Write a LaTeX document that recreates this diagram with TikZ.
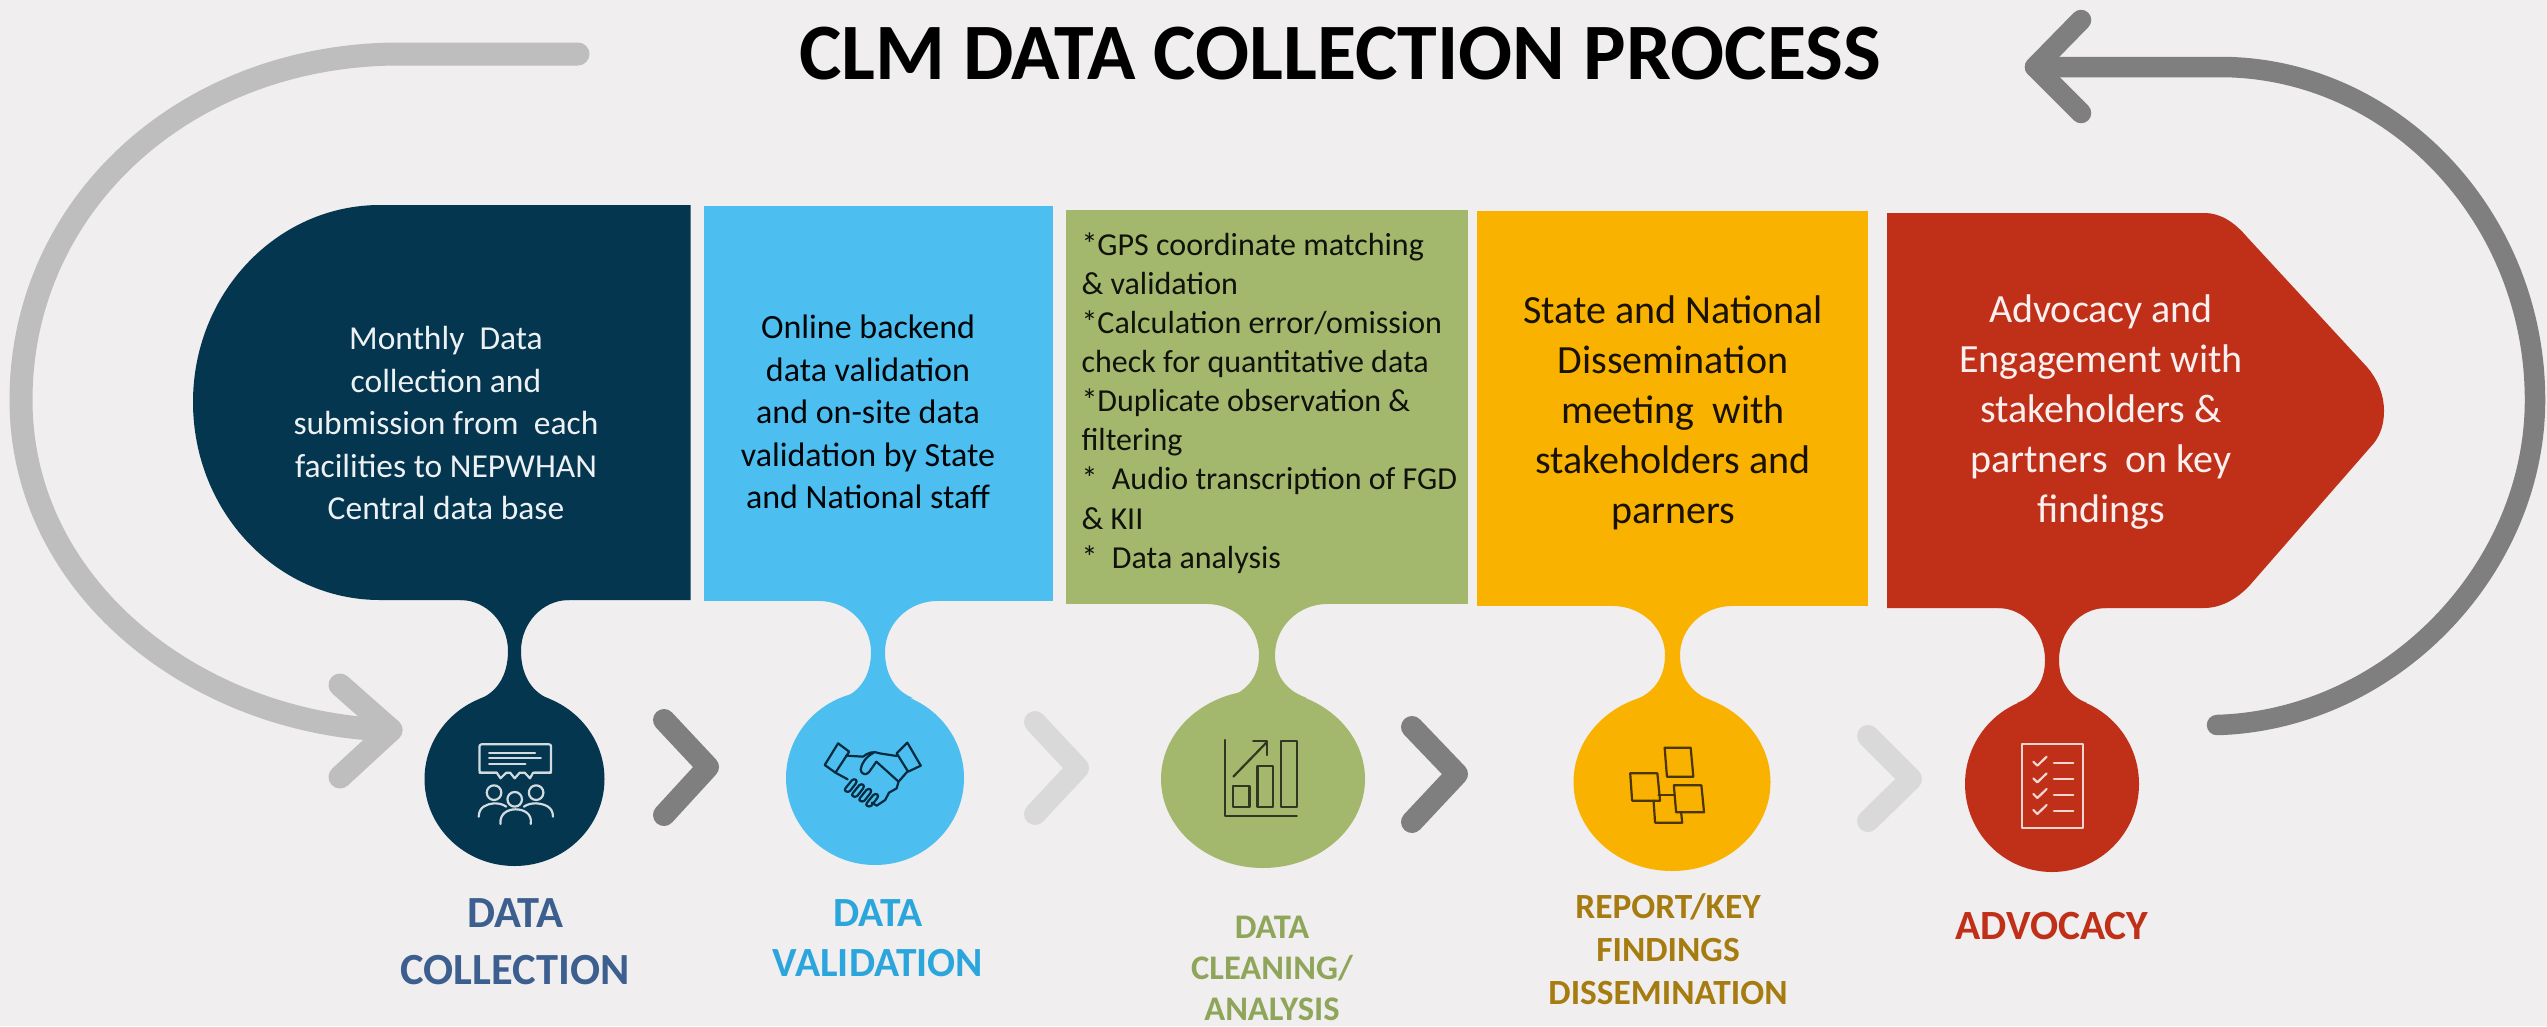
\documentclass[tikz,border=0pt]{standalone}
\usepackage{fontspec}
\setmainfont{Carlito}
\definecolor{bgc}{HTML}{F0EEEF}
\definecolor{navyc}{HTML}{05364F}
\definecolor{bluec}{HTML}{4CBFF0}
\definecolor{greenc}{HTML}{A3B86C}
\definecolor{yellowc}{HTML}{F9B200}
\definecolor{redc}{HTML}{C03018}
\definecolor{greyd}{HTML}{7F7F7F}
\definecolor{greym}{HTML}{BEBEBE}
\definecolor{greyl}{HTML}{D9D9D9}
\definecolor{lab1}{HTML}{3C5F8F}
\definecolor{lab2}{HTML}{2BA6DC}
\definecolor{lab3}{HTML}{8FA65A}
\definecolor{lab4}{HTML}{A67C10}
\definecolor{lab5}{HTML}{C03018}
\newcommand{\txtsize}[2]{\fontsize{#1}{#2}\selectfont}
% colour, neck centre, half width, top y, neck y, flare, shoulder half width, shoulder y
\newcommand{\dropneck}[8]{%
  \fill[#1] ({#2-#3-#6},#4)
    .. controls ({#2-#3-#6*0.45},#4) and ({#2-#3},{#4+(#5-#4)*0.45}) .. ({#2-#3},#5)
    .. controls ({#2-#3},{#5+(#8-#5)*0.55}) and ({#2-#3-(#7-#3)*0.45},{#8-6}) .. ({#2-#7},#8)
    -- ({#2+#7},#8)
    .. controls ({#2+#3+(#7-#3)*0.45},{#8-6}) and ({#2+#3},{#5+(#8-#5)*0.55}) .. ({#2+#3},#5)
    .. controls ({#2+#3},{#4+(#5-#4)*0.45}) and ({#2+#3+#6*0.45},#4) .. ({#2+#3+#6},#4)
    -- cycle;}
\tikzset{
  arc line/.style={line width=23pt,line cap=round,line join=round},
  chev/.style={line width=22pt,line cap=round,line join=round},
  stage/.style={align=center,inner sep=0pt},
  icon/.style={line width=2.2pt,line cap=round,line join=round},
}
\begin{document}
\begin{tikzpicture}[x=1pt,y=-1pt]
\path[use as bounding box,fill=bgc] (0,0) rectangle (2547,1026);

% return arcs
\coordinate (la0) at (578,54);
\coordinate (la1) at (400,54);
\coordinate (la2) at (21,400);
\coordinate (la3) at (391,730);
\coordinate (lh1) at (340,685);
\coordinate (lh2) at (340,777);
\draw[arc line,greym] (la0) -- (la1) .. controls (185,54) and (21,205) .. (la2)
   .. controls (21,590) and (200,725) .. (la3);
\draw[arc line,greym] (lh1) -- (la3) -- (lh2);

\coordinate (ra0) at (2217,725);
\coordinate (ra1) at (2535,400);
\coordinate (ra2) at (2220,67);
\coordinate (ra3) at (2035,67);
\coordinate (rh1) at (2081,20);
\coordinate (rh2) at (2081,113);
\draw[arc line,greyd,line width=20.5pt] (ra0) .. controls (2390,720) and (2535,570) .. (ra1)
   .. controls (2535,217) and (2393,67) .. (ra2) -- (ra3);
\draw[arc line,greyd,line width=20.5pt] (rh1) -- (ra3) -- (rh2);

% chevrons
\draw[chev,greyd] (664,720) -- (708,767) -- (664,815);
\draw[chev,greyl] (1035,722) -- (1078,768) -- (1035,814);
\draw[chev,greyd] (1412,727) -- (1457,774) -- (1412,822);
\draw[chev,greyl] (1868,736) -- (1911,779) -- (1868,821);

% panel 1
\fill[navyc] (690.5,205) -- (380,205) .. controls (277,205) and (193,293) .. (193,402)
   .. controls (193,512) and (277,600) .. (380,600) -- (690.5,600) -- cycle;
\dropneck{navyc}{514.5}{6.5}{600}{651}{48}{35}{699}
\fill[navyc] (514.5,779) ellipse [x radius=90pt,y radius=87pt];
% panel 2
\fill[bluec] (703.5,206) rectangle (1053,601);
\dropneck{bluec}{878}{7}{601}{652}{52}{35}{698}
\fill[bluec] (875,778) ellipse [x radius=89pt,y radius=87pt];
% panel 3
\fill[greenc] (1066,210) rectangle (1468,604);
\dropneck{greenc}{1267}{8}{604}{655}{52}{40}{698}
\fill[greenc] (1263,779) ellipse [x radius=102pt,y radius=89pt];
% panel 4
\fill[yellowc] (1477,211) rectangle (1868,606);
\dropneck{yellowc}{1672.5}{7.5}{606}{655}{52}{38}{700}
\fill[yellowc] (1672,782) ellipse [x radius=98.5pt,y radius=89pt];
% panel 5
\fill[redc] (1887,213) -- (2204,213) .. controls (2222,213) and (2236,224) .. (2247,237)
   -- (2367,367) .. controls (2378,380) and (2384,395) .. (2384,411)
   .. controls (2384,425) and (2380,435) .. (2374,443) -- (2250,585)
   .. controls (2238,598) and (2222,608) .. (2204,608) -- (1887,608) -- cycle;
\dropneck{redc}{2052}{7}{608}{660}{47}{35}{703}
\fill[redc] (2052,784) ellipse [x radius=87pt,y radius=88pt];

% icon 1
\begin{scope}[shift={(380,650)},xscale=0.3827,yscale=0.3333,icon,draw=white!82!navyc]
 \draw[rounded corners=2pt] (260,283) rectangle (447,368);
 \fill[navyc] (305,360) rectangle (402,376);
 \draw (260,368) -- (305,368) -- (315,385) -- (330,368) -- (340,368) -- (352,385) -- (365,368) -- (378,368) -- (392,385) -- (400,368) -- (447,368);
 \draw (285,310) -- (405,310);
 \draw (285,325) -- (420,325);
 \draw (285,342) -- (380,342);
 \draw (298,428) ellipse [x radius=19pt,y radius=22pt];
 \draw (352,448) ellipse [x radius=19pt,y radius=22pt];
 \draw (408,428) ellipse [x radius=19pt,y radius=22pt];
 \draw (258,500) .. controls (258,470) and (280,462) .. (298,460) .. controls (310,460) and (320,462) .. (330,470);
 \draw (452,500) .. controls (452,470) and (430,462) .. (408,460) .. controls (396,460) and (386,462) .. (376,470);
 \draw (315,522) .. controls (312,490) and (335,478) .. (354,478) .. controls (375,478) and (398,490) .. (394,522);
\end{scope}
% icon 2
\begin{scope}[shift={(380,650)},xscale=0.3827,yscale=0.3333,icon,draw=navyc!80!black]
 \draw (1197,280) -- (1226,305) -- (1190,368) -- (1162,345) -- cycle;
 \draw (1378,278) -- (1413,347) -- (1380,365) -- (1350,310) -- cycle;
 \draw (1218,317) -- (1262,320) .. controls (1275,308) and (1290,302) .. (1305,310) -- (1350,318);
 \draw (1290,308) .. controls (1270,320) and (1258,340) .. (1256,358) .. controls (1256,372) and (1270,378) .. (1278,366) -- (1297,335) -- (1355,395);
 \draw (1377,366) -- (1355,395) -- (1350,415) -- (1330,428) -- (1320,450) -- (1298,467) -- (1285,458);
 \draw (1190,368) -- (1222,388);
 \foreach \cx/\cy in {1228/405,1247/420,1266/434,1284/449}
   \draw (\cx-12,\cy+10) -- (\cx+5,\cy-14) .. controls (\cx+12,\cy-22) and (\cx+22,\cy-14) .. (\cx+15,\cy-4) -- (\cx,\cy+18) .. controls (\cx-6,\cy+24) and (\cx-18,\cy+18) .. (\cx-12,\cy+10);
\end{scope}
% icon 3
\begin{scope}[shift={(1130,680)},xscale=0.3827,yscale=0.3333,icon,draw=black!70!greenc]
 \draw (248,180) -- (248,408) -- (436,408);
 \draw (270,318) rectangle (312,380);
 \draw (333,258) rectangle (373,380);
 \draw (394,182) rectangle (436,380);
 \draw (270,290) -- (357,187);
 \draw (322,183) -- (357,183) -- (357,225);
\end{scope}
% icon 4
\begin{scope}[shift={(1130,680)},xscale=0.3827,yscale=0.3333,icon,draw=black!70!yellowc]
 \draw (1397,203) -- (1465,203) -- (1472,290) -- (1403,290) -- cycle;
 \draw (1307,280) -- (1378,280) -- (1385,362) -- (1312,362) -- cycle;
 \draw (1421,316) -- (1493,316) -- (1500,397) -- (1427,397) -- cycle;
 \draw (1381,345) -- (1421,345);
 \draw (1368,362) -- (1372,428) -- (1443,428) -- (1440,397);
\end{scope}
% icon 5
\begin{scope}[shift={(1900,680)},xscale=0.3333,yscale=0.3333,icon,draw=white!80!redc]
 \draw (367,193) rectangle (550,445);
 \foreach \y in {245,295,342,390}{
   \draw (400,\y) -- (412,\y+12) -- (440,\y-15);
   \draw (462,\y+3) -- (520,\y+3);}
\end{scope}

% title
\node[font=\bfseries\txtsize{80}{80}] (title) at (1340,54) {CLM DATA COLLECTION PROCESS};

% panel texts
\node[align=center,text=white!93!navyc,font=\txtsize{33.5}{42.5}] (t1) at (446,423)
 {Monthly\ \ Data\\collection and\\submission from\ \ each\\facilities to NEPWHAN\\Central data base};
\node[align=center,text=black!90!navyc,font=\txtsize{34}{42.5}] (t2) at (868,412)
 {Online backend\\data validation\\and on-site data\\validation by State\\and National staff};
\node[align=left,anchor=west,text=black!90!greenc,font=\txtsize{32}{39.1}] (t3) at (1078,403)
 {*GPS coordinate matching\\\& validation\\*Calculation error/omission\\check for quantitative data\\*Duplicate observation \&\\filtering\\*\ \ Audio transcription of FGD\\\& KII\\*\ \ Data analysis};
\node[align=center,text=black!90!yellowc,font=\txtsize{40}{50}] (t4) at (1673,413)
 {State and National\\Dissemination\\meeting\ \ with\\stakeholders and\\parners};
\node[align=center,text=white!93!redc,font=\txtsize{40}{50}] (t5) at (2101,412)
 {Advocacy and\\Engagement with\\stakeholders \&\\partners\ \ on key\\findings};

% stage labels
\node[stage,text=lab1,font=\bfseries\txtsize{44.5}{57}] (l1) at (515,942) {DATA\\COLLECTION};
\node[stage,text=lab2,font=\bfseries\txtsize{41.5}{50}] (l2) at (878,938) {DATA\\VALIDATION};
\node[stage,text=lab3,font=\bfseries\txtsize{34.5}{41}] (l3) at (1272,968) {DATA\\CLEANING/\\ANALYSIS};
\node[stage,text=lab4,font=\bfseries\txtsize{35.4}{43}] (l4) at (1668,949) {REPORT/KEY\\FINDINGS\\DISSEMINATION};
\node[stage,text=lab5,font=\bfseries\txtsize{41.6}{42}] (l5) at (2052,926) {ADVOCACY};
\end{tikzpicture}
\end{document}
